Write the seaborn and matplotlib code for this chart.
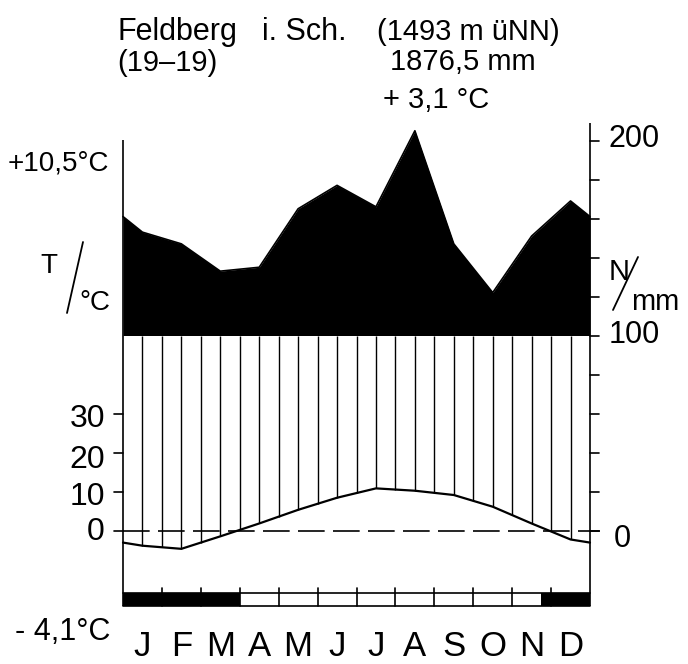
#!/usr/bin/env python3
"""Walter-Lieth climate diagram for Feldberg i. Sch."""

import matplotlib

matplotlib.use("Agg")
import matplotlib.pyplot as plt
from matplotlib.lines import Line2D
import numpy as np
import pandas as pd
import seaborn as sns


MONTHS = ["J", "F", "M", "A", "M", "J", "J", "A", "S", "O", "N", "D"]
PRECIP_MM = [153, 147, 133, 135, 165, 177, 166, 205, 147, 122, 151, 169]
TEMP_C = [-3.9, -4.7, -1.5, 1.8, 5.3, 8.4, 10.8, 10.2, 9.1, 6.1, 1.8, -2.3]
TEMP_TICKS = [0, 10, 20, 30]
PRECIP_TICKS = [0, 20, 40, 60, 80, 100, 120, 140, 160, 180, 200]
PRECIP_LABELS = ["0", "100", "200"]
FROST_SPANS = [(0.0, 3.0), (10.75, 12.0)]

# layout in pixels of the 688x664 canvas
W, H = 688, 664
X_LEFT, X_RIGHT = 123, 590
Y_ZERO = 530.5
PX_PER_C = 3.9
MONTH_PX = (X_RIGHT - X_LEFT) / 12
LW = 1.2
FONT = ["Liberation Sans", "DejaVu Sans"]


def yval(y_px):
    return (Y_ZERO - y_px) / PX_PER_C


def ftxt(fig, x, y, s, size, ha="left", va="baseline"):
    fig.text(x / W, 1 - y / H, s, fontsize=size, ha=ha, va=va, color="black", family=FONT)


def fslash(fig, x0, y0, x1, y1):
    fig.add_artist(Line2D([x0 / W, x1 / W], [1 - y0 / H, 1 - y1 / H], color="black", lw=1.3,
                          transform=fig.transFigure))


def main():
    sns.set_style("white")
    plt.rcParams["font.family"] = FONT

    fig = plt.figure(figsize=(W / 100, H / 100), dpi=100)
    ax = fig.add_axes([0, 0, 1, 1])
    ax.set_xlim(-X_LEFT / MONTH_PX, (W - X_LEFT) / MONTH_PX)
    ax.set_ylim(yval(H), yval(0))
    ax.axis("off")

    # curves with wrap-around edges at the frame
    x = np.concatenate([[0.0], np.arange(12) + 0.5, [12.0]])
    t_edge = (TEMP_C[0] + TEMP_C[-1]) / 2
    p_edge = (PRECIP_MM[0] + PRECIP_MM[-1]) / 2
    temp = np.array([t_edge] + TEMP_C + [t_edge])
    prec = np.array([p_edge] + PRECIP_MM + [p_edge]) / 2  # 10 degC = 20 mm
    df = pd.DataFrame({"x": x, "temp": temp, "prec": prec})

    # precipitation above 100 mm in black
    ax.fill_between(df["x"], 50, np.maximum(df["prec"], 50), color="black", lw=0)
    sns.lineplot(data=df, x="x", y="prec", sort=False, color="black", lw=LW, ax=ax, legend=False)

    # humid period hatching
    xh = np.arange(1, 24) * 0.5
    t_at = np.interp(xh, df["x"], df["temp"])
    p_at = np.minimum(np.interp(xh, df["x"], df["prec"]), 50)
    ax.vlines(xh, t_at, p_at, color="black", lw=1.0)

    sns.lineplot(data=df, x="x", y="temp", sort=False, color="black", lw=1.6, ax=ax, legend=False)

    # 0 degC dashed line
    ax.plot([0, 12.25], [0, 0], color="black", lw=LW, dashes=(16, 5))

    # frame
    bar_top, bar_bot, tick_top = yval(593), yval(605.7), yval(587.5)
    ax.plot([0, 0], [bar_bot, yval(140)], color="black", lw=LW, solid_capstyle="butt")
    ax.plot([12, 12], [bar_bot, yval(123)], color="black", lw=LW, solid_capstyle="butt")
    for t in TEMP_TICKS:
        ax.plot([-0.24, 0], [t, t], color="black", lw=LW)
    for p in PRECIP_TICKS:
        ax.plot([12, 12.22], [p / 2, p / 2], color="black", lw=LW)

    # frost bar
    ax.plot([0, 12], [bar_top, bar_top], color="black", lw=LW)
    ax.plot([0, 12], [bar_bot, bar_bot], color="black", lw=LW)
    for a, b in FROST_SPANS:
        ax.fill_between([a, b], bar_bot, bar_top, color="black", lw=0)
    for m in range(1, 12):
        ax.plot([m, m], [bar_bot, tick_top], color="black", lw=LW)

    # header
    ftxt(fig, 118, 40, "Feldberg", 22)
    ftxt(fig, 262, 40, "i. Sch.", 22)
    ftxt(fig, 377, 40, "(1493 m üNN)", 21)
    ftxt(fig, 117, 71, "(19–19)", 21)
    ftxt(fig, 390, 70, "1876,5 mm", 21)
    ftxt(fig, 383, 108, "+ 3,1 °C", 21)

    # left side labels
    ftxt(fig, 8, 170, "+10,5°C", 20)
    ftxt(fig, 40, 273, "T", 20)
    fslash(fig, 67, 313, 83, 242)
    ftxt(fig, 79, 310, "°C", 20)
    for t, y in zip(TEMP_TICKS, [540, 505, 468, 427]):
        ftxt(fig, 105, y, str(t), 23, ha="right")
    ftxt(fig, 15, 640, "- 4,1°C", 22)

    # right side labels
    for s, y in zip(PRECIP_LABELS, [547, 343, 147]):
        ftxt(fig, 609 if len(s) > 1 else 614, y, s, 22)
    ftxt(fig, 609, 280, "N", 21)
    fslash(fig, 613, 310, 638, 257)
    ftxt(fig, 631, 310, "mm", 21)

    # month letters
    for i, m in enumerate(MONTHS):
        ftxt(fig, X_LEFT + (i + 0.5) * MONTH_PX, 663, m, 25, ha="center", va="bottom")

    fig.savefig("out.png", dpi=100)


if __name__ == "__main__":
    main()
